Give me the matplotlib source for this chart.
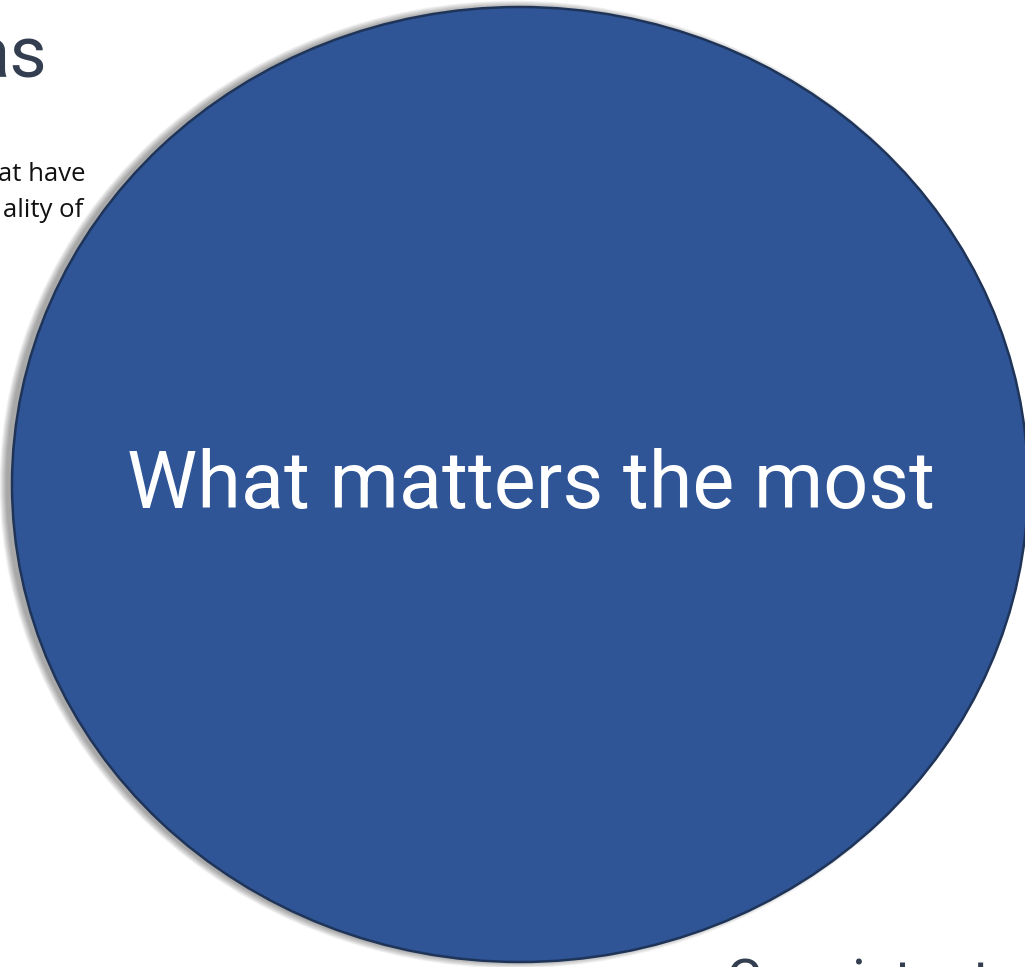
import matplotlib
matplotlib.use("Agg")
import matplotlib.pyplot as plt
from matplotlib.patches import Ellipse

# ---- content ----
center_label = "What matters the most"
heading_tail = "as"
body_lines = ["at have", "ality of"]
bottom_label = "Consistent"

W, H = 1025, 967
fig = plt.figure(figsize=(W / 100, H / 100), dpi=100)
ax = fig.add_axes([0, 0, 1, 1])
ax.set_xlim(0, W)
ax.set_ylim(H, 0)
ax.axis("off")
fig.patch.set_facecolor("white")

# background text (partly hidden by the circle)
ax.text(47, 78, heading_tail, ha="right", va="baseline", fontsize=52,
        family="Roboto", color="#333F50", zorder=1)
for i, line in enumerate(body_lines):
    ax.text([86, 83][i], 181 + i * 36, line, ha="right", va="baseline",
            fontsize=18.5, family="Open Sans", color="#111111", zorder=1)
ax.text(726, 999, bottom_label, ha="left", va="baseline", fontsize=40,
        family="Roboto", color="#333F50", zorder=1)

# soft shadow (mostly to the left)
cx, cy, ew, eh = 520, 484.5, 1016, 955
for k in range(9):
    ax.add_patch(Ellipse((cx - 6, cy), ew + k * 1.6, eh + k * 1.6,
                         facecolor="black", edgecolor="none", alpha=0.045, zorder=2))

ax.add_patch(Ellipse((cx, cy), ew, eh, facecolor="#2F5597", edgecolor="#1F3459",
                     linewidth=1.8, zorder=3))

ax.text(531, 486, center_label, ha="center", va="center", fontsize=57,
        family="Roboto", fontweight="normal", color="white", zorder=4)

fig.savefig("out.png", dpi=100, facecolor="white")
